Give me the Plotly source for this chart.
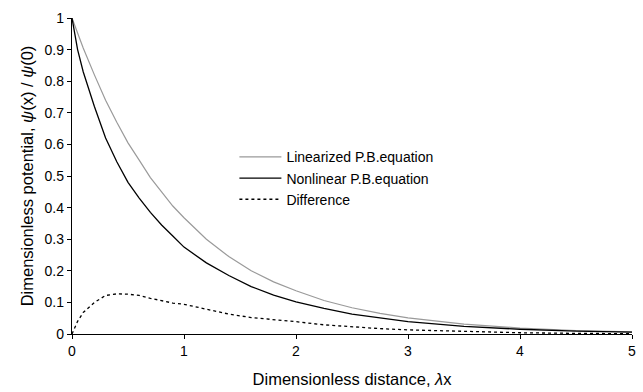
import plotly.graph_objects as go

x_vals = [0, 0.05, 0.1, 0.2, 0.3, 0.4, 0.5, 0.6, 0.7, 0.8, 0.9, 1.0, 1.2, 1.4, 1.6, 1.8, 2.0, 2.25, 2.5, 2.75, 3.0, 3.5, 4.0, 4.5, 5.0]
linearized = [1.0, 0.952, 0.905, 0.82, 0.74, 0.67, 0.605, 0.55, 0.495, 0.45, 0.405, 0.368, 0.30, 0.245, 0.20, 0.165, 0.137, 0.106, 0.083, 0.065, 0.051, 0.031, 0.019, 0.011, 0.007]
nonlinear = [1.0, 0.90, 0.83, 0.72, 0.62, 0.545, 0.48, 0.43, 0.385, 0.345, 0.31, 0.275, 0.225, 0.185, 0.15, 0.123, 0.102, 0.081, 0.063, 0.05, 0.039, 0.024, 0.015, 0.009, 0.006]
difference = [0.0, 0.04, 0.068, 0.10, 0.122, 0.127, 0.126, 0.122, 0.113, 0.105, 0.098, 0.094, 0.078, 0.063, 0.052, 0.046, 0.039, 0.029, 0.022, 0.017, 0.013, 0.008, 0.004, 0.002, 0.001]

fig = go.Figure()
fig.add_trace(go.Scatter(x=x_vals, y=linearized, mode="lines", name="Linearized P.B.equation",
                         line=dict(color="#9a9a9a", width=1.2)))
fig.add_trace(go.Scatter(x=x_vals, y=nonlinear, mode="lines", name="Nonlinear P.B.equation",
                         line=dict(color="black", width=1.3)))
fig.add_trace(go.Scatter(x=x_vals, y=difference, mode="lines", name="Difference",
                         line=dict(color="black", width=1.3, dash="3px,3px")))

axis_common = dict(showgrid=False, zeroline=False, showline=True, linecolor="black", linewidth=1.3,
                   ticks="outside", ticklen=4, tickcolor="black", tickwidth=1.3, automargin=False,
                   tickfont=dict(family="Liberation Sans, Arial", size=14, color="black"))
fig.update_layout(
    width=643, height=392,
    margin=dict(l=72, r=11, t=18, b=58),
    paper_bgcolor="white", plot_bgcolor="white",
    font=dict(family="Liberation Sans, Arial", size=14, color="black"),
    xaxis=dict(range=[0, 5], dtick=1,
               title=dict(text="Dimensionless distance, <i>λ</i>x", font=dict(size=16.5), standoff=15),
               **axis_common),
    yaxis=dict(range=[0, 1], dtick=0.1,
               title=dict(text="Dimensionless potential, <i>ψ</i>(x) / <i>ψ</i>(0)", font=dict(size=16.5), standoff=6),
               **axis_common),
    legend=dict(x=0.29, y=0.61, xanchor="left", yanchor="top", bgcolor="rgba(0,0,0,0)",
                font=dict(size=14), tracegroupgap=0, itemwidth=42),
)
fig.write_html("out.html")
